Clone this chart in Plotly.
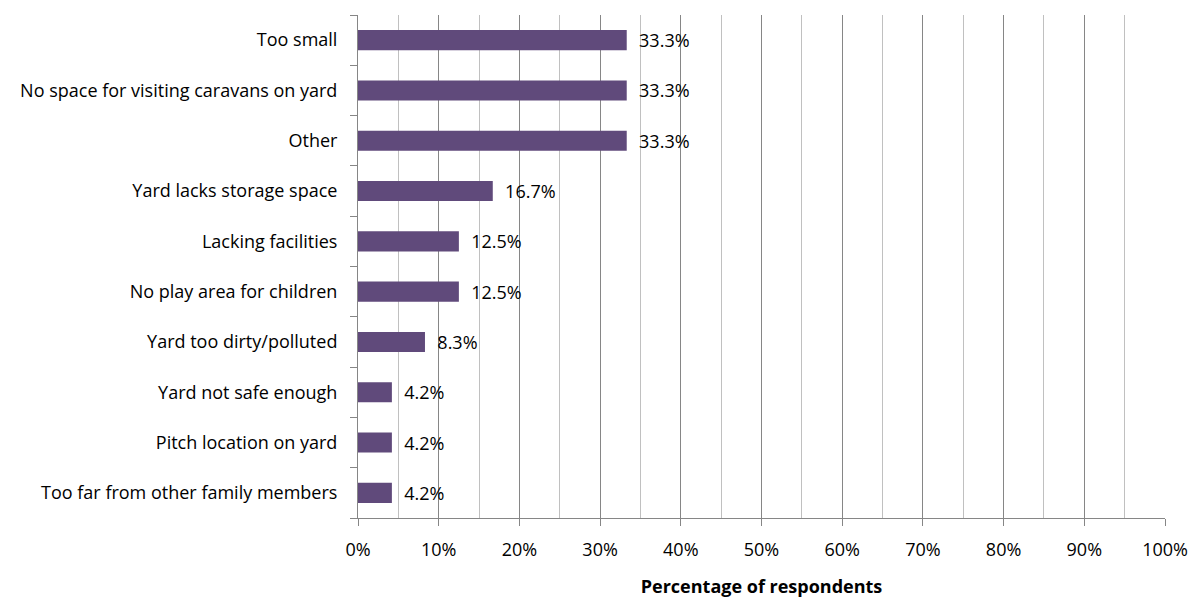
import plotly.graph_objects as go

categories = [
    "Too small",
    "No space for visiting caravans on yard",
    "Other",
    "Yard lacks storage space",
    "Lacking facilities",
    "No play area for children",
    "Yard too dirty/polluted",
    "Yard not safe enough",
    "Pitch location on yard",
    "Too far from other family members",
]
values = [33.3, 33.3, 33.3, 16.7, 12.5, 12.5, 8.3, 4.2, 4.2, 4.2]
labels = ["\u00a0\u00a0%.1f%%" % v for v in values]

FONT = "Open Sans, sans-serif"
SIZE = 18

fig = go.Figure()
fig.add_trace(go.Bar(
    y=categories[::-1],
    x=[v / 100 for v in values[::-1]],
    orientation="h",
    marker=dict(color="#604A7B", line=dict(width=0)),
    text=labels[::-1],
    textposition="outside",
    constraintext="none",
    textfont=dict(size=SIZE, color="#000000", family=FONT),
    cliponaxis=False,
    width=0.4,
))

fig.update_layout(
    width=1190, height=598,
    margin=dict(l=358, r=25, t=15, b=80),
    plot_bgcolor="white",
    paper_bgcolor="white",
    showlegend=False,
    font=dict(family=FONT, size=SIZE, color="#000000"),
)
fig.update_xaxes(
    automargin=False,
    range=[0, 1],
    tickformat=".0%",
    dtick=0.1,
    showgrid=True,
    gridcolor="#868686",
    gridwidth=1,
    minor=dict(dtick=0.05, showgrid=True, gridcolor="#C0C0C0", gridwidth=1),
    ticks="outside",
    ticklen=7,
    tickcolor="#868686",
    ticklabelstandoff=8,
    showline=True,
    linecolor="#868686",
    zeroline=False,
    title=dict(text="<b>Percentage of respondents</b>", font=dict(size=SIZE), standoff=20),
    tickfont=dict(size=SIZE),
)
fig.update_yaxes(
    automargin=False,
    tickson="boundaries",
    ticks="outside",
    ticklen=7,
    tickcolor="#868686",
    ticklabelstandoff=16,
    showline=True,
    linecolor="#868686",
    showgrid=False,
    tickfont=dict(size=SIZE),
)

# drop the default 8px body margin so the figure fills the window exactly
fig.write_html("out.html",
               config={"displayModeBar": False},
               post_script="document.body.style.margin='0px';")
